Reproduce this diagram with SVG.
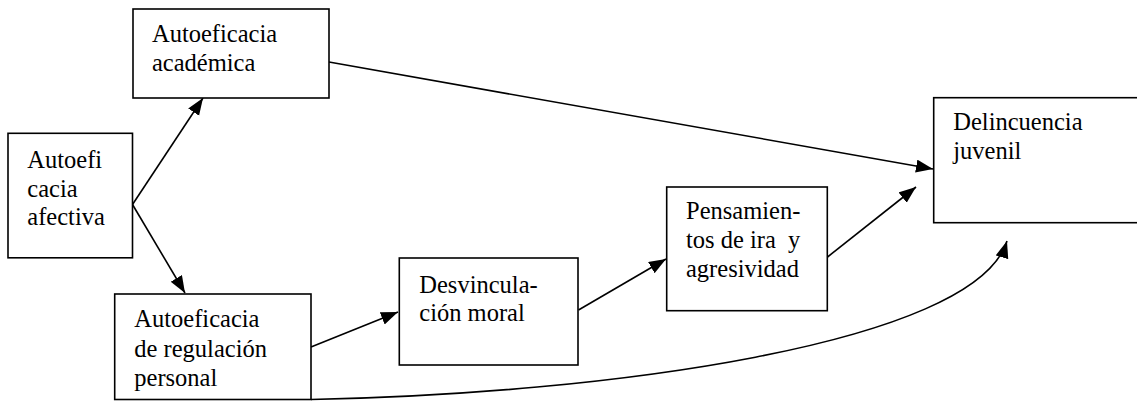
<svg xmlns="http://www.w3.org/2000/svg" width="1137" height="401" viewBox="0 0 1137 401">
<defs>
<marker id="ah" markerUnits="userSpaceOnUse" markerWidth="18" markerHeight="14" refX="17" refY="6.5" orient="auto">
<path d="M0,0 L17,6.5 L0,13 z" fill="#000"/>
</marker>
<style>
.box{fill:#fff;stroke:#000;stroke-width:1.6}
.t{font-size:24.5px;fill:#000}
.c{fill:none;stroke:#000;stroke-width:1.6;marker-end:url(#ah)}
</style>
</defs>
<rect width="1137" height="401" fill="#fff"/>
<g id="connectors">
<line class="c" x1="132.5" y1="204.5" x2="203" y2="98"/>
<line class="c" x1="132.5" y1="204.5" x2="185" y2="293"/>
<line class="c" x1="329" y1="62" x2="933" y2="169"/>
<line class="c" x1="311" y1="347" x2="398" y2="312"/>
<line class="c" x1="578.5" y1="310" x2="666" y2="259"/>
<line class="c" x1="827.5" y1="257" x2="916" y2="187"/>
<path class="c" d="M311,399.5 C600,394 975,345 1007,241"/>
</g>
<g font-family="Liberation Serif, Tinos, Times New Roman, serif">
<g id="n-academica">
<rect class="box" x="133" y="9" width="196" height="89"/>
<text class="t" x="152" y="41.7">Autoeficacia</text>
<text class="t" x="152" y="71">académica</text>
</g>
<g id="n-afectiva">
<rect class="box" x="8" y="133.3" width="124.5" height="124.5"/>
<text class="t" x="27.3" y="167.7">Autoefi</text>
<text class="t" x="27.3" y="196.7">cacia</text>
<text class="t" x="27.3" y="225">afectiva</text>
</g>
<g id="n-regulacion">
<rect class="box" x="114.7" y="294" width="196.3" height="105.5"/>
<text class="t" x="134.3" y="327.3">Autoeficacia</text>
<text class="t" x="134.3" y="356.7">de regulación</text>
<text class="t" x="134.3" y="385.7">personal</text>
</g>
<g id="n-desvinculacion">
<rect class="box" x="399.3" y="258" width="178.7" height="107"/>
<text class="t" x="419.3" y="292.7">Desvincula-</text>
<text class="t" x="419.3" y="321">ción moral</text>
</g>
<g id="n-pensamientos">
<rect class="box" x="666.7" y="187" width="160.6" height="123.7"/>
<text class="t" x="686" y="219.3">Pensamien-</text>
<text class="t" x="686" y="248.3" xml:space="preserve">tos de ira  y</text>
<text class="t" x="686" y="277.3">agresividad</text>
</g>
<g id="n-delincuencia">
<rect class="box" x="933.7" y="97.7" width="230" height="125"/>
<text class="t" x="953.3" y="130">Delincuencia</text>
<text class="t" x="953.3" y="159.3">juvenil</text>
</g>
</g>
</svg>
